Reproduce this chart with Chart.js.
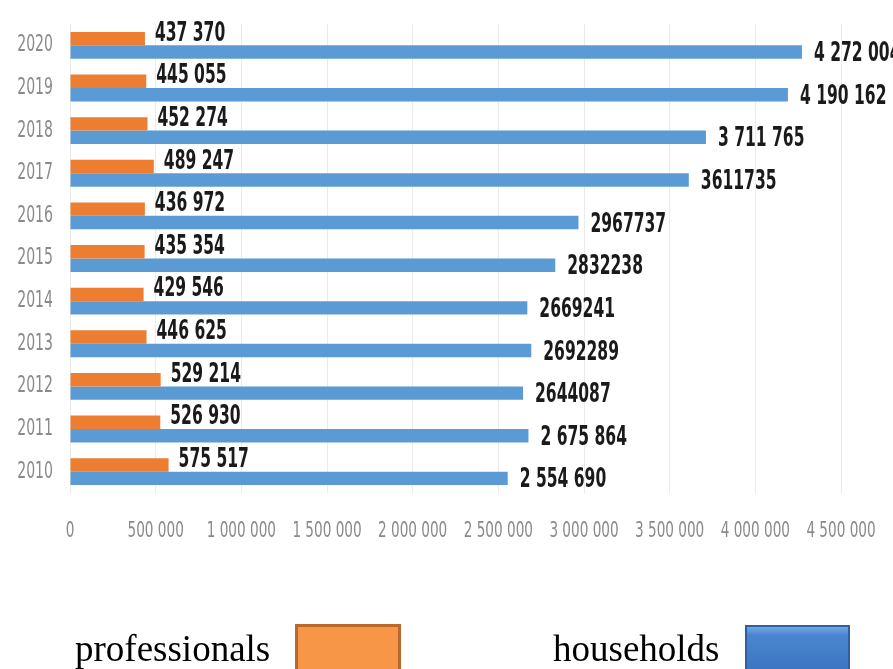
<!DOCTYPE html>
<html>
<head>
<meta charset="utf-8">
<script src="https://cdn.jsdelivr.net/npm/chart.js@4.4.0/dist/chart.umd.min.js"></script>
<style>
  body{margin:0;background:#fff;}
  #wrap{position:relative;width:893px;height:669px;overflow:hidden;}
  .lg{position:absolute;font-family:'Liberation Serif','Times New Roman',serif;font-size:37px;color:#000;line-height:1;}
  .box{position:absolute;box-sizing:border-box;}
</style>
</head>
<body>
<div id="wrap">
  <canvas id="chart" width="893" height="669"></canvas>
  <div class="lg" style="left:75px;top:630px;">professionals</div>
  <div class="box" style="left:295px;top:624px;width:106px;height:50px;background:#f79646;border:3px solid #b86a2c;"></div>
  <div class="lg" style="left:553px;top:630px;">households</div>
  <div class="box" style="left:745px;top:625px;width:105px;height:50px;background:linear-gradient(#6fa8e8 0%,#4a86d0 18%,#3b73c0 100%);border:2px solid #2f5f9e;"></div>
</div>
<script>
// rows top to bottom, as in the picture
const years = ['2020','2019','2018','2017','2016','2015','2014','2013','2012','2011','2010'];
const professionals = [437370,445055,452274,489247,436972,435354,429546,446625,529214,526930,575517];
const households = [4272004,4190162,3711765,3611735,2967737,2832238,2669241,2692289,2644087,2675864,2554690];
const profLabels = ['437 370','445 055','452 274','489 247','436 972','435 354','429 546','446 625','529 214','526 930','575 517'];
const houseLabels = ['4 272 004','4 190 162','3 711 765','3611735','2967737','2832238','2669241','2692289','2644087','2 675 864','2 554 690'];
const xTicks = [0,500000,1000000,1500000,2000000,2500000,3000000,3500000,4000000,4500000];

const COND = "'DejaVu Sans Condensed','Liberation Sans Narrow',sans-serif";

function fmt(v){
  return String(v).replace(/\B(?=(\d{3})+(?!\d))/g,' ');
}

// text squeezed sideways, the source uses a narrow face
function squeezed(ctx, txt, x, y, sx){
  ctx.save();
  ctx.translate(x, y);
  ctx.scale(sx, 1);
  ctx.fillText(txt, 0, 0);
  ctx.restore();
}

// value next to each bar end
const barLabels = {
  id:'barLabels',
  afterDatasetsDraw(chart){
    const ctx = chart.ctx;
    ctx.save();
    ctx.font = 'bold 27px ' + COND;
    ctx.fillStyle = '#1a1a1a';
    ctx.textAlign = 'left';
    ctx.textBaseline = 'middle';
    chart.data.datasets.forEach((ds,di)=>{
      const meta = chart.getDatasetMeta(di);
      meta.data.forEach((el,i)=>{
        const dx = di === 0 ? 10 : 12;
        const dy = di === 0 ? -5 : 2;
        squeezed(ctx, ds.valueLabels[i], el.x + dx, el.y + dy, 0.64);
      });
    });
    ctx.restore();
  }
};

// axis labels drawn by hand so they can be narrow too
const axisLabels = {
  id:'axisLabels',
  afterDraw(chart){
    const ctx = chart.ctx;
    const xs = chart.scales.x, ys = chart.scales.y;
    ctx.save();
    ctx.fillStyle = '#8a8a8a';
    ctx.textBaseline = 'middle';
    ctx.font = '21px ' + COND;
    ctx.textAlign = 'center';
    xTicks.forEach(v=>{
      squeezed(ctx, fmt(v), xs.getPixelForValue(v), 532, 0.72);
    });
    ctx.font = '23px ' + COND;
    ctx.textAlign = 'right';
    years.forEach((y,i)=>{
      squeezed(ctx, y, 53, ys.getPixelForValue(i), 0.68);
    });
    ctx.restore();
  }
};

new Chart(document.getElementById('chart').getContext('2d'), {
  type:'bar',
  data:{
    labels: years,
    datasets:[
      { label:'professionals', data: professionals, valueLabels: profLabels,
        backgroundColor:'#ed7d31', categoryPercentage:0.63, barPercentage:1.0 },
      { label:'households', data: households, valueLabels: houseLabels,
        backgroundColor:'#5b9bd5', categoryPercentage:0.63, barPercentage:1.0 }
    ]
  },
  options:{
    indexAxis:'y',
    responsive:false,
    animation:false,
    layout:{ padding:{ top:24, right:52, bottom:126, left:0 } },
    plugins:{ legend:{display:false}, tooltip:{enabled:false} },
    scales:{
      x:{
        min:0, max:4500000,
        afterBuildTicks(s){ s.ticks = xTicks.map(v=>({value:v})); },
        afterFit(s){ s.height = 50; },
        border:{display:false},
        grid:{ color:'#ebebeb', drawTicks:false },
        ticks:{ display:false }
      },
      y:{
        afterFit(s){ s.width = 70; },
        border:{display:false},
        grid:{ display:false, drawTicks:false },
        ticks:{ display:false }
      }
    }
  },
  plugins:[barLabels, axisLabels]
});
</script>
</body>
</html>
